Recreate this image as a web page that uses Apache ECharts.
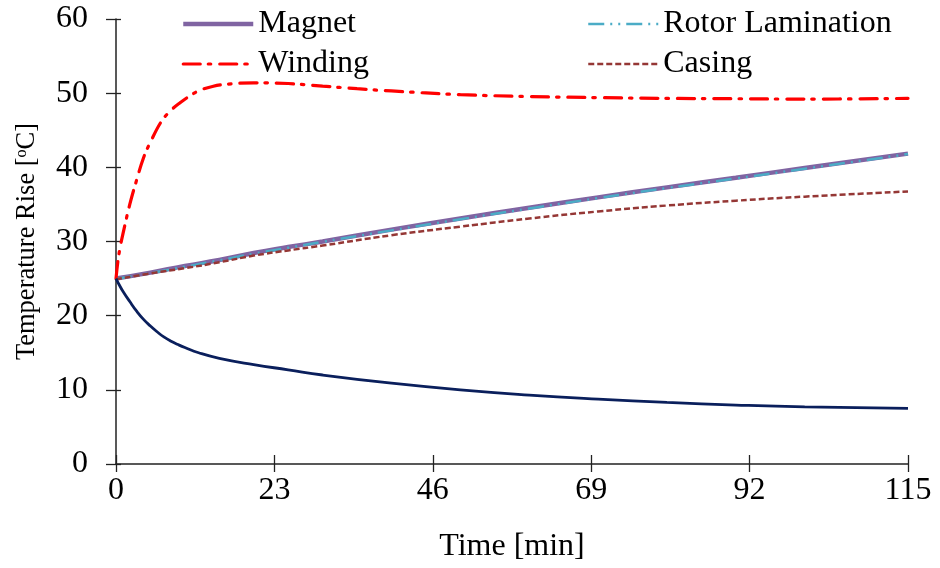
<!DOCTYPE html>
<html>
<head>
<meta charset="utf-8">
<script src="https://cdn.jsdelivr.net/npm/echarts@6/dist/echarts.min.js"></script>
<style>
  html, body { margin: 0; padding: 0; background: #fff; }
  #chart { width: 940px; height: 568px; }
</style>
</head>
<body>
<div id="chart"></div>
<script>
// Temperature rise of motor parts over time, [time (min), rise (°C)]
const magnet = [[0,25],[5,25.8],[10,26.7],[15,27.5],[20,28.45],[25,29.25],[30,30.0],[40,31.6],[50,33.1],[60,34.55],[70,35.95],[80,37.3],[90,38.6],[100,39.9],[115,41.85]];
const rotorLamination = [[0,24.95],[5,25.75],[10,26.6],[15,27.45],[20,28.35],[25,29.15],[30,29.95],[40,31.5],[50,33.0],[60,34.45],[70,35.85],[80,37.2],[90,38.5],[100,39.8],[115,41.8]];
const winding = [[0,25],[0.3,27.5],[0.6,29.2],[1,31],[2,35],[3,38.3],[4,41.3],[5,43.4],[6.6,46.2],[8,47.7],[9.3,48.7],[11,49.8],[12.2,50.4],[14,50.9],[16,51.2],[20,51.4],[25,51.3],[30,50.95],[35,50.6],[40,50.3],[50,49.8],[60,49.55],[70,49.4],[80,49.3],[90,49.25],[100,49.2],[115,49.3]];
const casing = [[0,24.9],[5,25.7],[10,26.4],[15,27.2],[20,28.1],[25,28.8],[30,29.45],[40,30.85],[50,32.0],[60,33.1],[70,34.05],[80,34.85],[90,35.5],[100,36.05],[115,36.75]];
const lowerCurve = [[0,25],[0.5,24.1],[1,23.3],[2,21.9],[3,20.6],[4,19.5],[5,18.6],[6,17.8],[7,17.1],[8,16.55],[9,16.1],[10,15.7],[12,15.0],[15,14.25],[20,13.4],[25,12.7],[30,12.0],[40,10.9],[50,10.0],[60,9.3],[70,8.75],[80,8.3],[90,7.95],[100,7.7],[115,7.5]];

const xTicks = [0, 23, 46, 69, 92, 115];
const yTicks = [0, 10, 20, 30, 40, 50, 60];

const FONT = "'Liberation Serif', 'Times New Roman', serif";
const AXIS_COLOR = '#222';

const COLORS = { magnet: '#8064A2', rotor: '#4BACC6', winding: '#FF0000', casing: '#953735', lower: '#0A1F5C' };
const STYLES = {
  magnet: { color: COLORS.magnet, width: 4.5, type: 'solid' },
  rotor: { color: COLORS.rotor, width: 2.5, type: [16, 6, 2, 6, 2, 6] },
  winding: { color: COLORS.winding, width: 3.2, type: [17, 8, 2.5, 9], cap: 'round' },
  casing: { color: COLORS.casing, width: 2.5, type: [6, 3] },
  lower: { color: COLORS.lower, width: 2.8, type: 'solid' }
};

const chart = echarts.init(document.getElementById('chart'), null, { renderer: 'canvas' });

const legendBase = {
  orient: 'vertical', top: 8, padding: 0,
  itemWidth: 70, itemHeight: 14, itemGap: 8,
  itemStyle: { opacity: 0 },
  textStyle: { fontFamily: FONT, fontSize: 32, color: '#000', lineHeight: 32 }
};

chart.setOption({
  animation: false,
  backgroundColor: '#fff',
  grid: { left: 116, right: 32, top: 19, bottom: 103, containLabel: false },
  legend: [
    Object.assign({
      data: [
        { name: 'Magnet', lineStyle: STYLES.magnet },
        { name: 'Winding', lineStyle: STYLES.winding }
      ],
      left: 181
    }, legendBase),
    Object.assign({
      data: [
        { name: 'Rotor Lamination', lineStyle: STYLES.rotor },
        { name: 'Casing', lineStyle: STYLES.casing }
      ],
      left: 587
    }, legendBase)
  ],
  xAxis: [
    {
      type: 'value', min: xTicks[0], max: xTicks[xTicks.length - 1], interval: 23,
      name: 'Time [min]', nameLocation: 'middle', nameGap: 67,
      nameTextStyle: { fontFamily: FONT, fontSize: 32, color: '#000' },
      axisLine: { onZero: false, lineStyle: { color: AXIS_COLOR, width: 1.5 } },
      axisTick: { show: true, inside: false, length: 8, lineStyle: { color: AXIS_COLOR, width: 1.3 } },
      axisLabel: { fontFamily: FONT, fontSize: 32, color: '#000', margin: 11 },
      splitLine: { show: false }
    },
    {
      type: 'value', min: xTicks[0], max: xTicks[xTicks.length - 1], interval: 23,
      position: 'bottom', offset: 0,
      axisLine: { show: false },
      axisTick: { show: true, inside: true, length: 9, lineStyle: { color: AXIS_COLOR, width: 1.3 } },
      axisLabel: { show: false },
      splitLine: { show: false }
    }
  ],
  yAxis: [
    {
      type: 'value', min: yTicks[0], max: yTicks[yTicks.length - 1], interval: 10,
      name: 'Temperature Rise [{sup|o}C]', nameLocation: 'middle', nameGap: 75,
      nameTextStyle: {
        fontFamily: FONT, fontSize: 26.5, color: '#000',
        rich: { sup: { fontFamily: FONT, fontSize: 16, color: '#000', verticalAlign: 'top', padding: [0, 0, 10, 0] } }
      },
      axisLine: { show: true, onZero: false, lineStyle: { color: AXIS_COLOR, width: 1.5 } },
      axisTick: { show: true, inside: false, length: 10, lineStyle: { color: AXIS_COLOR, width: 1.3 } },
      axisLabel: { fontFamily: FONT, fontSize: 32, color: '#000', margin: 28 },
      splitLine: { show: false }
    },
    {
      type: 'value', min: yTicks[0], max: yTicks[yTicks.length - 1], interval: 10,
      position: 'left', offset: 0,
      axisLine: { show: false },
      axisTick: { show: true, inside: true, length: 5, lineStyle: { color: AXIS_COLOR, width: 1.3 } },
      axisLabel: { show: false },
      splitLine: { show: false }
    }
  ],
  series: [
    {
      name: 'Magnet', type: 'line', data: magnet, smooth: true, symbol: 'none',
      lineStyle: STYLES.magnet, itemStyle: { color: COLORS.magnet }, z: 2
    },
    {
      name: 'Rotor Lamination', type: 'line', data: rotorLamination, smooth: true, symbol: 'none',
      lineStyle: STYLES.rotor, itemStyle: { color: COLORS.rotor }, z: 3
    },
    {
      name: 'Winding', type: 'line', data: winding, smooth: 0.4, symbol: 'none',
      lineStyle: STYLES.winding, itemStyle: { color: COLORS.winding }, z: 4
    },
    {
      name: 'Casing', type: 'line', data: casing, smooth: true, symbol: 'none',
      lineStyle: STYLES.casing, itemStyle: { color: COLORS.casing }, z: 5
    },
    {
      name: 'Lower', type: 'line', data: lowerCurve, smooth: 0.5, symbol: 'none',
      lineStyle: STYLES.lower, itemStyle: { color: COLORS.lower }, z: 6
    }
  ]
});
</script>
</body>
</html>
